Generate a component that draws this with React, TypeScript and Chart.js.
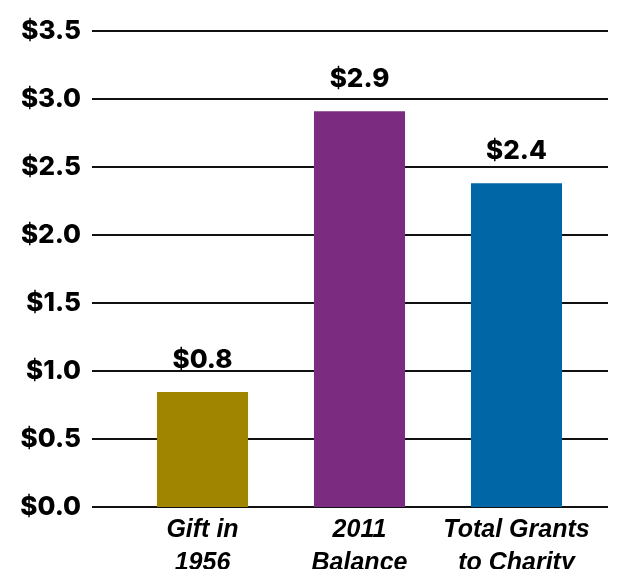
import React, { useEffect, useRef } from "react";
import { Chart, registerables } from "chart.js";

Chart.register(...registerables);

const categories: string[][] = [["Gift in", "1956"], ["2011", "Balance"], ["Total Grants", "to Charity"]];
const values: number[] = [0.845, 2.91, 2.38];
const valueLabels: string[] = ["$0.8", "$2.9", "$2.4"];
const barColors: string[] = ["#A08600", "#7B2C80", "#0066A6"];
const yMin = 0;
const yMax = 3.5;
const yStep = 0.5;

const numFont = "Inter";

const gridPlugin = {
  id: "extendedGrid",
  beforeDatasetsDraw(chart: any) {
    const { ctx, chartArea, scales } = chart;
    const y = scales.y;
    ctx.save();
    ctx.strokeStyle = "#111111";
    ctx.lineWidth = 2;
    y.ticks.forEach((t: any) => {
      const py = Math.round(y.getPixelForValue(t.value));
      ctx.beginPath();
      ctx.moveTo(chartArea.left - 32, py);
      ctx.lineTo(chartArea.right + 13, py);
      ctx.stroke();
    });
    ctx.restore();
  },
};

const labelPlugin = {
  id: "valueLabels",
  afterDatasetsDraw(chart: any) {
    const { ctx } = chart;
    const meta = chart.getDatasetMeta(0);
    ctx.save();
    ctx.font = `800 26px ${numFont}`;
    ctx.fillStyle = "#000000";
    ctx.textAlign = "center";
    ctx.textBaseline = "alphabetic";
    meta.data.forEach((bar: any, i: number) => {
      ctx.fillText(valueLabels[i], bar.x, bar.y - 24);
    });
    ctx.restore();
  },
};

export default function App() {
  const ref = useRef<HTMLCanvasElement>(null);
  useEffect(() => {
    if (!ref.current) return;
    const chart = new Chart(ref.current, {
      type: "bar",
      data: {
        labels: categories,
        datasets: [
          {
            data: values,
            backgroundColor: barColors,
            borderWidth: 0,
            categoryPercentage: 1,
            barPercentage: 0.58,
          },
        ],
      },
      options: {
        responsive: false,
        animation: false,
        layout: { padding: { left: 0, right: 22, top: 31, bottom: 0 } },
        plugins: { legend: { display: false }, tooltip: { enabled: false } },
        scales: {
          x: {
            offset: true,
            grid: { display: false, drawTicks: false },
            border: { display: false },
            ticks: {
              color: "#000000",
              padding: 7,
              maxRotation: 0,
              autoSkip: false,
              font: { family: "'Liberation Sans'", size: 25, weight: "bold", style: "italic", lineHeight: 1.32 },
            },
            afterFit: (s: any) => {
              s.height = 62;
              s.paddingLeft = 0;
              s.paddingRight = 0;
            },
          },
          y: {
            min: yMin,
            max: yMax,
            grid: { display: false, drawTicks: false, tickLength: 0 },
            border: { display: false },
            ticks: {
              stepSize: yStep,
              color: "#000000",
              padding: 43,
              font: { family: numFont, size: 26, weight: "800" },
              callback: (v: any) => "$" + Number(v).toFixed(1),
            },
            afterFit: (s: any) => {
              s.width = 124;
              s.paddingTop = 0;
              s.paddingBottom = 0;
            },
          },
        },
      },
      plugins: [gridPlugin, labelPlugin],
    });
    return () => chart.destroy();
  }, []);
  return (
    <div style={{ position: "fixed", left: 0, top: 0, width: 617, height: 569, background: "#fff" }}>
      <canvas ref={ref} width={617} height={569} />
    </div>
  );
}
